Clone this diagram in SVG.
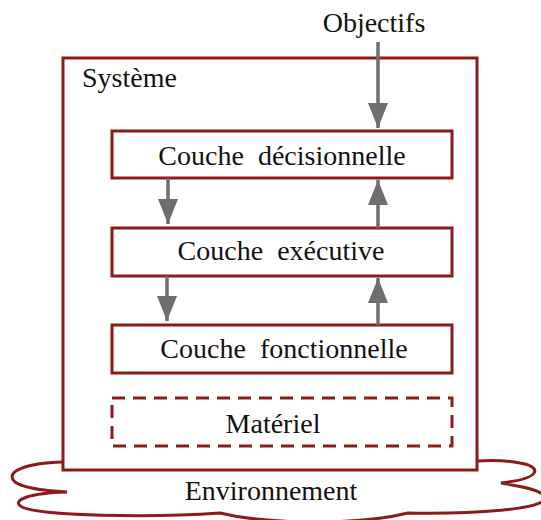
<svg xmlns="http://www.w3.org/2000/svg" width="541" height="520" viewBox="0 0 541 520">
<style>
.box{fill:#fff;stroke:#8b1a1a;stroke-width:3}
.dash{fill:#fff;stroke:#8b1a1a;stroke-width:3;stroke-dasharray:13 8}
.t{font-family:"Liberation Serif","DejaVu Serif",serif;font-size:28px;fill:#111}
.c{text-anchor:middle;word-spacing:7px}
.arr{stroke:#6e6e6e;stroke-width:3.5;fill:none;marker-end:url(#ah)}
</style>
<defs>
<marker id="ah" markerUnits="userSpaceOnUse" markerWidth="26" markerHeight="20" refX="25" refY="10" orient="auto">
<path d="M0,0 L25,10 L0,20 z" fill="#6e6e6e"/>
</marker>
</defs>
<g id="environnement">
<path class="box" d="M63,462 C25,463 4,472 15,482 C24,489 50,491 67,492 C30,493 10,500 22,507 C40,516 150,518 220,513 C270,525 360,525 408,513 C470,514 548,510 545,497 C542,490 520,486 501,483 C545,478 540,466 520,463 C505,460 490,460 477,461"/>
<text class="t c" x="271" y="500">Environnement</text>
</g>
<g id="systeme">
<rect class="box" x="63" y="58" width="414" height="412"/>
<text class="t" x="82" y="87">Système</text>
</g>
<g id="objectifs">
<text class="t c" x="374" y="32">Objectifs</text>
</g>
<g id="decisionnelle">
<rect class="box" x="112" y="131" width="340" height="47"/>
<text class="t c" x="282" y="165">Couche décisionnelle</text>
</g>
<g id="executive">
<rect class="box" x="112" y="228" width="340" height="48"/>
<text class="t c" x="281" y="260">Couche exécutive</text>
</g>
<g id="fonctionnelle">
<rect class="box" x="112" y="325" width="340" height="48"/>
<text class="t c" x="284" y="358">Couche fonctionnelle</text>
</g>
<g id="materiel">
<rect class="dash" x="112" y="398" width="340" height="48"/>
<text class="t c" x="273" y="433">Matériel</text>
</g>
<g id="connecteurs">
<line class="arr" x1="378" y1="42" x2="378" y2="128"/>
<line class="arr" x1="168" y1="178" x2="168" y2="224"/>
<line class="arr" x1="378" y1="228" x2="378" y2="180"/>
<line class="arr" x1="167" y1="276" x2="167" y2="321"/>
<line class="arr" x1="378" y1="325" x2="378" y2="278"/>
</g>
</svg>
